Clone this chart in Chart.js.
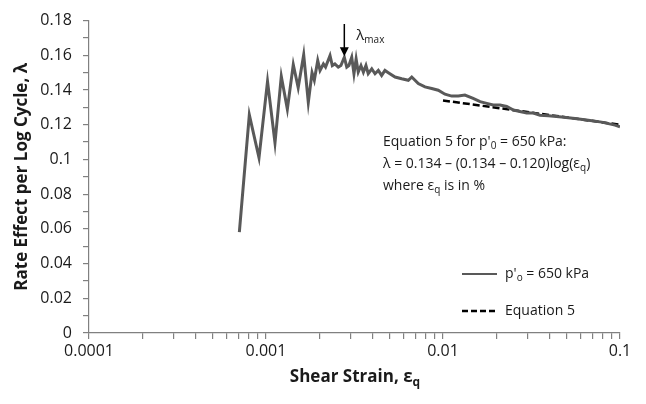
<!DOCTYPE html>
<html>
<head>
<meta charset="utf-8">
<script src="https://cdn.jsdelivr.net/npm/chart.js@4.4.0/dist/chart.umd.min.js"></script>
<style>
  html, body { margin: 0; padding: 0; background: #fff; }
  #wrap { width: 646px; height: 404px; }
</style>
</head>
<body>
<div id="wrap"><canvas id="chart" width="646" height="404"></canvas></div>
<script>
const strain = [
  0.000707, 0.000805, 0.000913, 0.00102, 0.001124, 0.00122, 0.00132, 0.001426, 0.00152,
  0.001633, 0.001734, 0.00182, 0.001875, 0.00196, 0.00202, 0.00211, 0.00217, 0.0023,
  0.00237, 0.00245, 0.00256, 0.00265, 0.00277, 0.00286, 0.00294, 0.00305, 0.00314,
  0.00323, 0.00332, 0.00344, 0.00355, 0.00367, 0.00378, 0.00396, 0.00413, 0.00431,
  0.0045, 0.0047, 0.00491, 0.00536, 0.00584, 0.00637, 0.00666, 0.00725, 0.00791,
  0.00863, 0.0094, 0.01026, 0.0112, 0.0122, 0.0133, 0.0148, 0.0162, 0.01766, 0.0192,
  0.021, 0.0229, 0.025, 0.0272, 0.0297, 0.0324, 0.0353, 0.0394, 0.0468, 0.0557,
  0.0662, 0.0788, 0.0937, 0.1
];
const lambda = [
  0.0581, 0.1257, 0.101, 0.145, 0.1096, 0.1479, 0.129, 0.1547, 0.1413,
  0.1603, 0.1329, 0.150, 0.1456, 0.157, 0.1513, 0.155, 0.1532, 0.1598,
  0.1541, 0.155, 0.1532, 0.1541, 0.1589, 0.1532, 0.1541, 0.1589, 0.1494,
  0.1579, 0.1503, 0.1541, 0.1503, 0.1541, 0.1494, 0.1522, 0.1494, 0.1513,
  0.1484, 0.1513, 0.150, 0.1475, 0.1465, 0.1456, 0.1475, 0.1437, 0.1418,
  0.1409, 0.1399, 0.1376, 0.1365, 0.1365, 0.1371, 0.1352, 0.1333, 0.1323, 0.1314,
  0.1314, 0.1305, 0.1285, 0.1276, 0.1267, 0.1267, 0.1255, 0.1252, 0.1245, 0.1236,
  0.1226, 0.1215, 0.1198, 0.1188
];

// Equation 5 end points
const eqStrain = [0.01, 0.1];
const eqLambda = [0.134, 0.120];

const xTickLabels = ['0.0001', '0.001', '0.01', '0.1'];
const yTickLabels = ['0', '0.02', '0.04', '0.06', '0.08', '0.1', '0.12', '0.14', '0.16', '0.18'];

const lambdaMaxStrain = 0.00277;
const lambdaMaxValue = 0.1589;

const FONT = "'Open Sans', sans-serif";
const TEXT = '#1a1a1a';
const AXIS = '#808080';
const GRAY = '#595959';

// draws text made of plain + subscript parts
function richText(ctx, parts, x, y, size, weight, align) {
  const subSize = Math.round(size * 0.68);
  let w = 0;
  parts.forEach(p => {
    ctx.font = weight + ' ' + (p.sub ? subSize : size) + 'px ' + FONT;
    p.w = ctx.measureText(p.t).width;
    w += p.w;
  });
  let cx = align === 'center' ? x - w / 2 : x;
  ctx.textAlign = 'left';
  ctx.textBaseline = 'middle';
  parts.forEach(p => {
    ctx.font = weight + ' ' + (p.sub ? subSize : size) + 'px ' + FONT;
    ctx.fillText(p.t, cx, p.sub ? y + size * 0.3 : y);
    cx += p.w;
  });
}

const overlay = {
  id: 'overlay',
  afterDraw(chart) {
    const ctx = chart.ctx;
    const xs = chart.scales.x, ys = chart.scales.y;
    ctx.save();
    ctx.fillStyle = TEXT;

    // x axis title
    richText(ctx, [{ t: 'Shear Strain, ε' }, { t: 'q', sub: true }], 355, 377, 17, 'bold', 'center');

    // equation note
    richText(ctx, [{ t: "Equation 5 for p'" }, { t: '0', sub: true }, { t: ' = 650 kPa:' }], 383, 142, 14, 'normal');
    richText(ctx, [{ t: 'λ = 0.134 – (0.134 – 0.120)log(ε' }, { t: 'q', sub: true }, { t: ')' }], 383, 164, 14, 'normal');
    richText(ctx, [{ t: 'where ε' }, { t: 'q', sub: true }, { t: ' is in %' }], 383, 186, 14, 'normal');

    // legend
    ctx.lineWidth = 2;
    ctx.strokeStyle = GRAY;
    ctx.beginPath(); ctx.moveTo(462, 274); ctx.lineTo(497, 274); ctx.stroke();
    ctx.strokeStyle = '#000';
    ctx.lineWidth = 2.5;
    ctx.setLineDash([6, 3]);
    ctx.beginPath(); ctx.moveTo(462, 311); ctx.lineTo(497, 311); ctx.stroke();
    ctx.setLineDash([]);
    richText(ctx, [{ t: "p'" }, { t: 'o', sub: true }, { t: ' = 650 kPa' }], 505, 274, 14, 'normal');
    richText(ctx, [{ t: 'Equation 5' }], 505, 311, 14, 'normal');

    // lambda max arrow
    const ax = xs.getPixelForValue(lambdaMaxStrain);
    const tip = ys.getPixelForValue(lambdaMaxValue) - 1;
    ctx.strokeStyle = '#000';
    ctx.lineWidth = 1.5;
    ctx.beginPath(); ctx.moveTo(ax, 24); ctx.lineTo(ax, tip - 8); ctx.stroke();
    ctx.fillStyle = '#000';
    ctx.beginPath();
    ctx.moveTo(ax - 4.5, tip - 9); ctx.lineTo(ax + 4.5, tip - 9); ctx.lineTo(ax, tip); ctx.closePath();
    ctx.fill();
    ctx.fillStyle = TEXT;
    richText(ctx, [{ t: 'λ' }, { t: 'max', sub: true }], ax + 12, 36, 15, 'normal');
    ctx.restore();
  }
};

new Chart(document.getElementById('chart'), {
  type: 'scatter',
  data: {
    datasets: [
      {
        label: "p'o = 650 kPa",
        data: strain.map((s, i) => ({ x: s, y: lambda[i] })),
        showLine: true,
        borderColor: GRAY,
        borderWidth: 3,
        pointRadius: 0,
        tension: 0
      },
      {
        label: 'Equation 5',
        data: eqStrain.map((s, i) => ({ x: s, y: eqLambda[i] })),
        showLine: true,
        borderColor: '#000',
        borderWidth: 2.5,
        borderDash: [7, 3],
        pointRadius: 0
      }
    ]
  },
  options: {
    responsive: false,
    animation: false,
    layout: { padding: { left: 0, right: 26, top: 16, bottom: 0 } },
    plugins: { legend: { display: false }, tooltip: { enabled: false } },
    scales: {
      x: {
        type: 'logarithmic',
        min: 0.0001,
        max: 0.1,
        afterBuildTicks(scale) {
          const t = [];
          for (let e = -4; e <= -2; e++) {
            for (let m = 1; m <= 9; m++) t.push({ value: m * Math.pow(10, e) });
          }
          t.push({ value: 0.1 });
          scale.ticks = t;
        },
        afterFit(scale) { scale.height = 71; },
        grid: { drawOnChartArea: false, drawTicks: true, tickLength: 6, color: AXIS, lineWidth: 1.2 },
        border: { display: true, color: AXIS, width: 1.2 },
        ticks: {
          autoSkip: false,
          maxRotation: 0,
          padding: 3,
          color: TEXT,
          font: { family: FONT, size: 16 },
          callback(v) {
            const e = Math.log10(v);
            if (Math.abs(e - Math.round(e)) < 1e-6) return xTickLabels[Math.round(e) + 4];
            return '';
          }
        }
      },
      y: {
        min: 0,
        max: 0.18,
        afterFit(scale) { scale.width = 89; },
        grid: { drawOnChartArea: false, drawTicks: true, tickLength: 6, color: AXIS, lineWidth: 1.2 },
        border: { display: true, color: AXIS, width: 1.2 },
        title: {
          display: true,
          text: 'Rate Effect per Log Cycle, λ',
          color: TEXT,
          font: { family: FONT, size: 17, weight: 'bold' },
          padding: { top: 12, bottom: 0 }
        },
        ticks: {
          stepSize: 0.01,
          autoSkip: false,
          padding: 11,
          color: TEXT,
          font: { family: FONT, size: 16 },
          callback(v) {
            const k = Math.round(v * 100);
            return k % 2 === 0 ? yTickLabels[k / 2] : '';
          }
        }
      }
    }
  },
  plugins: [overlay]
});
</script>
</body>
</html>
